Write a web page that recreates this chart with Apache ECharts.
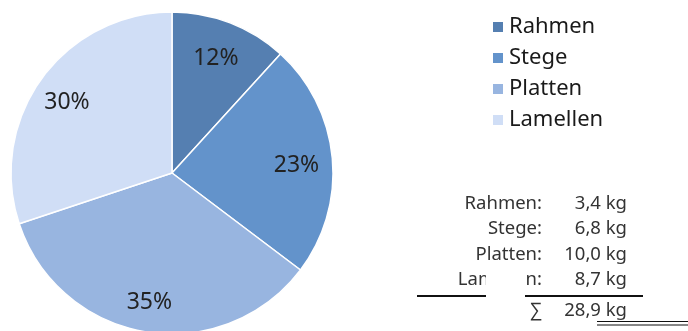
<!DOCTYPE html>
<html>
<head>
<meta charset="utf-8">
<script src="https://cdn.jsdelivr.net/npm/echarts@6/dist/echarts.min.js"></script>
<style>
  html, body { margin: 0; padding: 0; background: #fff; }
  #chart { width: 688px; height: 331px; }
</style>
</head>
<body>
<div id="chart"></div>
<script>
// Component weights of the construction (kg)
const parts = ['Rahmen', 'Stege', 'Platten', 'Lamellen'];
const weights = [3.4, 6.8, 10.0, 8.7];
const colors = ['#557fb1', '#6393cb', '#98b5e0', '#d0def6'];

const FONT = '"Noto Sans", "Open Sans", sans-serif';
const TABLE_FONT = '18.5px ' + FONT;
const fmt = v => v.toFixed(1).replace('.', ',') + ' kg';
const total = weights.reduce((a, b) => a + b, 0);

const pieData = parts.map((n, i) => ({ name: n, value: weights[i], itemStyle: { color: colors[i] } }));

// weight table at the lower right
const rowY = [204, 229, 255, 280];
const tableText = [];
parts.forEach((n, i) => {
  tableText.push({
    type: 'text', z: 10,
    style: { text: n + ':', x: 542, y: rowY[i], align: 'right', verticalAlign: 'middle',
             font: TABLE_FONT, fill: '#333' }
  });
  tableText.push({
    type: 'text', z: 10,
    style: { text: fmt(weights[i]), x: 627, y: rowY[i], align: 'right', verticalAlign: 'middle',
             font: TABLE_FONT, fill: '#333' }
  });
});

const chart = echarts.init(document.getElementById('chart'), null, { renderer: 'canvas' });
chart.setOption({
  backgroundColor: '#fff',
  animation: false,
  legend: {
    orient: 'vertical',
    left: 486,
    top: 10,
    icon: 'rect',
    itemWidth: 12,
    itemHeight: 12,
    itemGap: 7,
    itemTextGap: 9,
    data: parts,
    textStyle: { fontFamily: FONT, fontSize: 22, color: '#1a1a1a', lineHeight: 24 }
  },
  series: [
    {
      type: 'pie',
      center: [172, 173],
      radius: 161,
      startAngle: 90,
      clockwise: true,
      data: pieData,
      label: { show: false },
      labelLine: { show: false },
      itemStyle: { borderColor: '#fff', borderWidth: 1.5 },
      emphasis: { disabled: true }
    },
    {
      // label carrier: places the percentages further out than the default
      type: 'pie',
      center: [172, 173],
      radius: [87, 161],
      startAngle: 90,
      clockwise: true,
      silent: true,
      percentPrecision: 0,
      data: parts.map((n, i) => ({ name: n, value: weights[i] })),
      itemStyle: { color: 'rgba(0,0,0,0)' },
      label: {
        show: true,
        position: 'inside',
        formatter: '{d}%',
        offset: [-2, 4],
        fontFamily: FONT,
        fontSize: 23,
        color: '#222'
      },
      labelLine: { show: false },
      emphasis: { disabled: true }
    }
  ],
  graphic: tableText.concat([
    { type: 'line', z: 10, shape: { x1: 417, y1: 296, x2: 643, y2: 296 },
      style: { stroke: '#111', lineWidth: 2 } },
    { type: 'rect', z: 20, shape: { x: 486, y: 266, width: 39, height: 34 },
      style: { fill: '#fff' } },
    { type: 'text', z: 10,
      style: { text: '\u2211', x: 542, y: 311, align: 'right', verticalAlign: 'middle',
               font: TABLE_FONT, fill: '#333' } },
    { type: 'text', z: 10,
      style: { text: fmt(total), x: 627, y: 311, align: 'right', verticalAlign: 'middle',
               font: TABLE_FONT, fill: '#333' } },
    { type: 'line', z: 10, shape: { x1: 597, y1: 321.5, x2: 688, y2: 321.5 },
      style: { stroke: '#111', lineWidth: 1.2 } },
    { type: 'line', z: 10, shape: { x1: 597, y1: 325, x2: 688, y2: 325 },
      style: { stroke: '#111', lineWidth: 1.2 } }
  ])
});
</script>
</body>
</html>
